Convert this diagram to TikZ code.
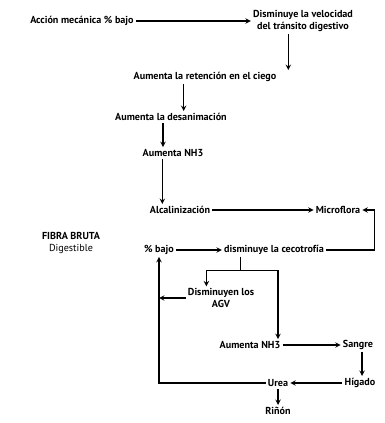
\documentclass[tikz,border=0pt]{standalone}
\usepackage{fontspec}
\setmainfont{PT Sans}
\tikzset{
  txt/.style={font=\fontsize{7.6}{8.6}\selectfont\bfseries, inner sep=1.5pt},
  arr/.style={->, >=stealth, line width=0.8pt}
}
\begin{document}
\begin{tikzpicture}[x=0.75pt, y=-0.75pt]
  \useasboundingbox (0,0) rectangle (384,423);
  \node[txt, anchor=west] (accion) at (28,21) {Acción mecánica \% bajo};
  \node[txt, align=center] (velocidad) at (303,21) {Disminuye la velocidad\\del tránsito digestivo};
  \node[txt] (retencion) at (205,77) {Aumenta la retención en el ciego};
  \node[txt] (desanim) at (171,117) {Aumenta la desanimación};
  \node[txt] (nhA) at (173,153) {Aumenta NH3};
  \node[txt] (alcal) at (180,210) {Alcalinización};
  \node[txt] (micro) at (338,210) {Microflora};
  \node[txt, align=center] (fibra) at (71,243) {FIBRA BRUTA\\{\mdseries Digestible}};
  \node[txt] (bajo) at (159,250) {\% bajo};
  \node[txt] (ceco) at (274,250) {disminuye la cecotrofía};
  \node[txt, align=center] (agv) at (221,298) {Disminuyen los\\AGV};
  \node[txt] (nhB) at (250,345) {Aumenta NH3};
  \node[txt] (sangre) at (358,345) {Sangre};
  \node[txt] (higado) at (360,383) {Hígado};
  \node[txt] (urea) at (278,383) {Urea};
  \node[txt] (rinon) at (278,411) {Riñón};
  % top chain
  \draw[arr] (accion) -- (velocidad);
  \draw[arr] ([xshift=-11pt]velocidad.south) -- ([xshift=-11pt]velocidad.south |- retencion.north);
  \draw[arr] ([xshift=-16pt]retencion.south) -- ([xshift=-16pt]retencion.south |- desanim.north);
  \draw[arr] ([xshift=-6pt]desanim.south) -- ([xshift=-6pt]desanim.south |- nhA.north);
  \draw[arr] ([xshift=-8pt]nhA.south) -- ([xshift=-8pt]nhA.south |- alcal.north);
  \draw[arr] (alcal) -- (micro);
  % loop back to microflora
  \draw[arr] (ceco.east) -| ([xshift=9pt]micro.east) -- (micro.east);
  \draw[arr] (bajo) -- (ceco);
  \coordinate (split) at ([xshift=-25pt, yshift=-10pt]ceco.south);
  \draw ([xshift=-25pt]ceco.south) -- (split);
  \draw[arr] (split) -| ([xshift=-11pt]agv.north);
  \draw[arr] (split) -| (urea |- nhB.north);
  \draw[arr] (agv.west) -- (agv.west -| bajo);
  \draw[arr] (urea.west) -| (bajo.south);
  % blood side
  \draw[arr] (nhB) -- (sangre);
  \draw[arr] ([xshift=3pt]sangre.south) -- ([xshift=3pt]sangre.south |- higado.north);
  \draw[arr] (higado) -- (urea);
  \draw[arr] (urea) -- (rinon);
\end{tikzpicture}
\end{document}
